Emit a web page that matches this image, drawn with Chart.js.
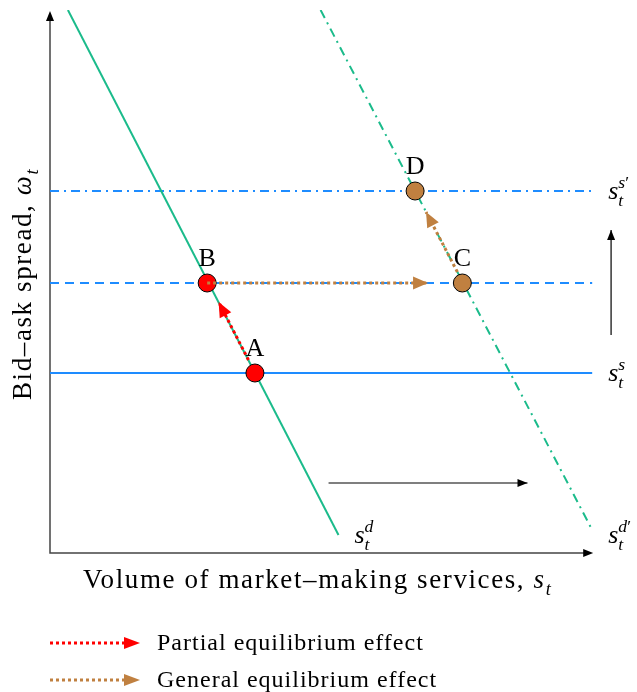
<!DOCTYPE html>
<html lang="en">
<head>
    <meta charset="UTF-8">
    <title>Partial and general equilibrium effect</title>
    <script src="https://cdn.jsdelivr.net/npm/chart.js"></script>
    <style>
        html, body {
            margin: 0;
            padding: 0;
            background: #ffffff;
        }
        canvas {
            display: block;
        }
    </style>
</head>
<body>

    <canvas id="diagrama" width="637" height="692"></canvas>

    <script>
        // diagram units: x = volume of market-making services, y = bid-ask spread
        const ejeX = [0, 109.2];          // x axis from origin to arrow tip
        const ejeY = [0, 108.4];          // y axis from origin to arrow tip

        const demandaX = [3.6, 58];       // s_t^d
        const demandaY = [108.6, 3.6];
        const demanda2X = [54.4, 109];    // s_t^d'
        const demanda2Y = [108.6, 4.6];

        const ofertaX = [0, 109];         // horizontal supply lines
        const ofertaY = [36, 54, 72.4];   // s_t^s, intermediate, s_t^s'

        const puntosNombre = ['A', 'B', 'C', 'D'];
        const puntosX = [41.2, 31.6, 82.9, 73.4];
        const puntosY = [36, 54, 54, 72.4];

        const flechaParcialX = [39.9, 33.9];   // A -> B
        const flechaParcialY = [38.6, 50.2];
        const flechaGeneral1X = [31.6, 76];    // B -> C
        const flechaGeneral1Y = [54, 54];
        const flechaGeneral2X = [81.9, 75.6];  // C -> D
        const flechaGeneral2Y = [56.2, 68.2];
        const desplazaDemandaX = [56, 96];     // demand shift
        const desplazaDemandaY = [14, 14];
        const desplazaOfertaX = [112.8, 112.8];// supply shift
        const desplazaOfertaY = [43.6, 64.6];

        const VERDE = '#1bbb8b';
        const AZUL = '#1e8cff';
        const ROJO = '#ff0000';
        const MARRON = '#c08040';
        const FUENTE = '"Liberation Serif", "DejaVu Serif", serif';

        const puntos = (xs, ys) => xs.map((v, i) => ({ x: v, y: ys[i] }));

        function linea(xs, ys, color, dash, ancho, orden, extra) {
            return Object.assign({
                data: puntos(xs, ys),
                showLine: true,
                borderColor: color,
                borderWidth: ancho,
                borderDash: dash,
                pointRadius: 0,
                order: orden
            }, extra || {});
        }

        const datasets = [
            linea(demandaX, demandaY, VERDE, [], 2, 3),
            linea(demanda2X, demanda2Y, VERDE, [9, 5, 2, 5], 2, 3),
            linea(ofertaX, [ofertaY[0], ofertaY[0]], AZUL, [], 2, 3),
            linea(ofertaX, [ofertaY[1], ofertaY[1]], AZUL, [9, 6], 2, 3),
            linea(ofertaX, [ofertaY[2], ofertaY[2]], AZUL, [9, 5, 2, 5], 2, 3),
            {
                data: puntos(puntosX, puntosY),
                showLine: false,
                pointRadius: 9,
                pointBackgroundColor: [ROJO, ROJO, MARRON, MARRON],
                pointBorderColor: '#000000',
                pointBorderWidth: 1,
                order: 2
            },
            linea(flechaParcialX, flechaParcialY, ROJO, [3, 3], 3, 1, { flecha: [15, 6.5] }),
            linea(flechaGeneral1X, flechaGeneral1Y, MARRON, [3, 3], 3, 1, { flecha: [15, 6.5] }),
            linea(flechaGeneral2X, flechaGeneral2Y, MARRON, [3, 3], 3, 1, { flecha: [15, 6.5] }),
            linea(desplazaDemandaX, desplazaDemandaY, '#000000', [], 1.2, 1, { flecha: [10, 4] }),
            linea(desplazaOfertaX, desplazaOfertaY, '#000000', [], 1.2, 1, { flecha: [10, 4] })
        ];

        // punta de flecha triangular
        function punta(c, x0, y0, x1, y1, largo, medio, color) {
            const ang = Math.atan2(y1 - y0, x1 - x0);
            c.save();
            c.translate(x1, y1);
            c.rotate(ang);
            c.fillStyle = color;
            c.beginPath();
            c.moveTo(0, 0);
            c.lineTo(-largo, -medio);
            c.lineTo(-largo, medio);
            c.closePath();
            c.fill();
            c.restore();
        }

        // texto con partes en cursiva, subindices y superindices
        function texto(c, x, y, partes, tam, esp) {
            let cx = x;
            c.letterSpacing = (esp || 0) + 'px';
            partes.forEach(p => {
                const t = p.sub || p.sup ? tam * 0.68 : tam;
                c.font = (p.it ? 'italic ' : '') + t + 'px ' + FUENTE;
                const dy = p.sub ? tam * 0.25 : (p.sup ? -tam * 0.42 : 0);
                c.fillText(p.t, cx, y + dy);
                if (!p.over) cx += c.measureText(p.t).width;
            });
            c.letterSpacing = '0px';
        }

        const anotaciones = {
            id: 'anotaciones',
            beforeDatasetsDraw(chart) {
                const c = chart.ctx;
                const sx = chart.scales.x, sy = chart.scales.y;
                const ox = sx.getPixelForValue(ejeX[0]), oy = sy.getPixelForValue(ejeY[0]);
                const fx = sx.getPixelForValue(ejeX[1]), fy = sy.getPixelForValue(ejeY[1]);
                c.save();
                c.strokeStyle = '#444444';
                c.lineWidth = 1.5;
                c.beginPath();
                c.moveTo(ox, fy + 6);
                c.lineTo(ox, oy);
                c.lineTo(fx - 6, oy);
                c.stroke();
                c.restore();
                punta(c, ox, oy, ox, fy, 10, 4, '#000000');
                punta(c, ox, oy, fx, oy, 10, 4, '#000000');
            },
            afterDatasetsDraw(chart) {
                const c = chart.ctx;
                const sx = chart.scales.x, sy = chart.scales.y;

                // puntas de flecha de los datasets
                chart.data.datasets.forEach((ds, i) => {
                    if (!ds.flecha) return;
                    const el = chart.getDatasetMeta(i).data;
                    const a = el[el.length - 2], b = el[el.length - 1];
                    punta(c, a.x, a.y, b.x, b.y, ds.flecha[0], ds.flecha[1], ds.borderColor);
                });

                c.save();
                c.fillStyle = '#000000';
                c.textBaseline = 'alphabetic';

                // nombres de los puntos
                c.textAlign = 'center';
                c.font = '26px ' + FUENTE;
                puntosNombre.forEach((n, i) => {
                    c.fillText(n, sx.getPixelForValue(puntosX[i]), sy.getPixelForValue(puntosY[i]) - 17);
                });
                c.textAlign = 'left';

                // etiquetas de las curvas
                const tam = 26;
                texto(c, sx.getPixelForValue(demandaX[1]) + 16, sy.getPixelForValue(demandaY[1]) + 8,
                    [{ t: 's', it: true }, { t: 't', it: true, sub: true, over: true }, { t: 'd', it: true, sup: true }], tam);
                texto(c, sx.getPixelForValue(demanda2X[1]) + 16, sy.getPixelForValue(demanda2Y[1]) + 13,
                    [{ t: 's', it: true }, { t: 't', it: true, sub: true, over: true }, { t: 'd', it: true, sup: true }, { t: '\u2032', sup: true }], tam);
                texto(c, sx.getPixelForValue(ofertaX[1]) + 16, sy.getPixelForValue(ofertaY[0]) + 8,
                    [{ t: 's', it: true }, { t: 't', it: true, sub: true, over: true }, { t: 's', it: true, sup: true }], tam);
                texto(c, sx.getPixelForValue(ofertaX[1]) + 16, sy.getPixelForValue(ofertaY[2]) + 8,
                    [{ t: 's', it: true }, { t: 't', it: true, sub: true, over: true }, { t: 's', it: true, sup: true }, { t: '\u2032', sup: true }], tam);

                // titulos de los ejes
                texto(c, 83, 588, [{ t: 'Volume of market\u2013making services, ' }, { t: 's', it: true }, { t: 't', it: true, sub: true }], 27, 1.6);
                c.save();
                c.translate(31, 400);
                c.rotate(-Math.PI / 2);
                texto(c, 0, 0, [{ t: 'Bid\u2013ask spread, ' }, { t: '\u03c9', it: true }, { t: 't', it: true, sub: true }], 27, 1.6);
                c.restore();

                // leyenda
                const leyenda = [
                    { color: ROJO, txt: 'Partial equilibrium effect', y: 643 },
                    { color: MARRON, txt: 'General equilibrium effect', y: 680 }
                ];
                leyenda.forEach(l => {
                    c.save();
                    c.strokeStyle = l.color;
                    c.lineWidth = 3;
                    c.setLineDash([3, 3]);
                    c.beginPath();
                    c.moveTo(50, l.y);
                    c.lineTo(126, l.y);
                    c.stroke();
                    c.restore();
                    punta(c, 120, l.y, 140, l.y, 16, 6, l.color);
                    texto(c, 157, l.y + 7, [{ t: l.txt }], 24, 1);
                });
                c.restore();
            }
        };

        new Chart(document.getElementById('diagrama').getContext('2d'), {
            type: 'scatter',
            data: { datasets: datasets },
            options: {
                responsive: false,
                animation: false,
                devicePixelRatio: 1,
                layout: { padding: { left: 50, right: 7, top: 10, bottom: 139 } },
                scales: {
                    x: { type: 'linear', min: 0, max: 116, display: false },
                    y: { type: 'linear', min: 0, max: 108.6, display: false }
                },
                plugins: {
                    legend: { display: false },
                    tooltip: { enabled: false }
                }
            },
            plugins: [anotaciones]
        });
    </script>

</body>
</html>
